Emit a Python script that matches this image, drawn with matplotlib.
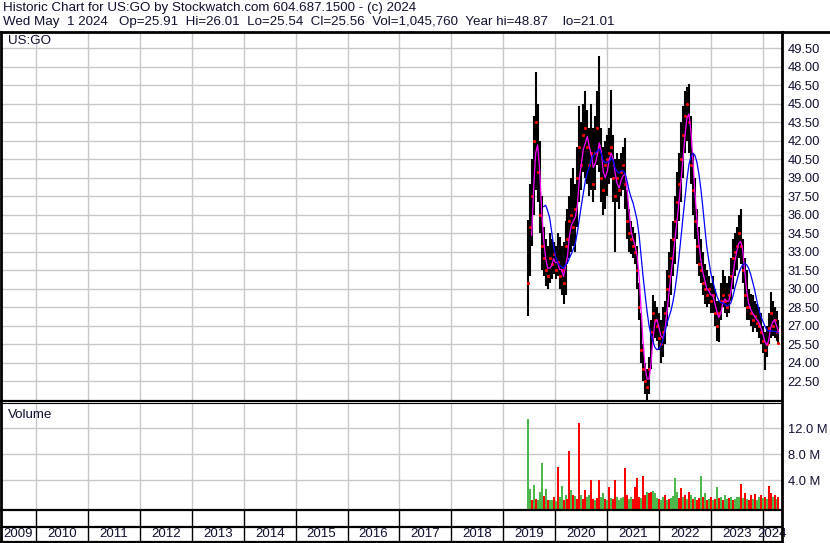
import matplotlib
matplotlib.use("Agg")
import matplotlib.pyplot as plt
import numpy as np
import pandas as pd
from matplotlib.lines import Line2D

W, H, DPI = 830, 543, 100

title_line1 = "Historic Chart for US:GO by Stockwatch.com 604.687.1500 - (c) 2024"
title_line2 = ("Wed May  1 2024   Op=25.91  Hi=26.01  Lo=25.54  Cl=25.56  "
               "Vol=1,045,760  Year hi=48.87    lo=21.01")
symbol_label = "US:GO"
volume_label = "Volume"

# ---- data (bi-weekly bars) ----
start_date = "2019-06-21"
step_days = 14

highs = [35.6, 38.5, 40.5, 44.0, 47.6, 45.0, 42.0, 37.5, 35.0, 34.0,
         33.5, 34.5, 34.0, 33.8, 33.5, 34.5, 34.2, 33.5, 33.8, 35.5,
         36.5, 37.5, 39.0, 39.8, 38.5, 41.5, 44.8, 43.5, 45.0, 46.0,
         44.5, 43.0, 45.0, 43.0, 44.0, 46.0, 48.9, 43.0, 41.5, 42.0,
         42.5, 43.0, 46.1, 42.5, 40.5, 41.0, 40.5, 41.0, 41.5, 42.2,
         38.0, 36.5, 35.5, 35.0, 34.5, 33.5, 30.5, 28.0, 25.5, 24.0,
         23.5, 24.5, 27.5, 29.5, 29.0, 28.5, 28.0, 27.5, 28.5, 29.0,
         31.5, 33.0, 34.0, 35.5, 37.5, 39.5, 41.0, 43.5, 44.8, 46.0,
         46.4, 46.6, 44.0, 41.0, 39.0, 36.5, 35.0, 34.0, 33.0, 32.0,
         31.5, 31.0, 30.5, 31.0, 30.0, 29.0, 29.0, 30.5, 31.5, 31.0,
         30.5, 31.0, 32.5, 34.0, 34.5, 35.0, 36.0, 36.5, 34.0, 32.5,
         31.5, 30.0, 29.6, 29.5, 29.0, 28.8, 28.5, 28.0, 27.0, 26.5,
         27.0, 28.0, 29.7, 29.0, 28.5, 28.2, 27.5]
lows = [27.8, 31.0, 33.5, 36.0, 38.0, 37.0, 34.5, 31.5, 31.0, 30.2,
        30.0, 30.5, 30.8, 31.2, 30.8, 31.0, 30.0, 29.5, 28.8, 29.5,
        32.0, 32.5, 33.0, 33.5, 33.0, 35.0, 37.0, 38.0, 39.5, 39.0,
        38.5, 37.5, 38.0, 37.0, 38.0, 40.0, 39.5, 37.0, 36.0, 36.5,
        37.5, 38.5, 39.0, 37.0, 33.0, 37.0, 36.5, 37.5, 38.0, 36.5,
        34.0, 33.0, 32.8, 32.5, 32.0, 30.0, 27.5, 24.0, 22.5, 21.5,
        21.0, 21.5, 23.5, 25.5, 26.0, 25.8, 25.0, 24.0, 24.5, 25.5,
        27.0, 28.5, 29.5, 31.0, 32.0, 34.0, 35.5, 37.0, 39.0, 41.0,
        42.0, 41.0, 38.5, 36.0, 34.0, 32.0, 31.0, 30.5, 29.5, 28.8,
        28.5, 28.8, 28.0, 28.0, 27.0, 25.8, 25.7, 27.5, 28.5, 28.0,
        27.7, 28.0, 29.0, 30.0, 31.0, 31.5, 32.5, 32.0, 30.5, 28.5,
        27.5, 27.5, 27.0, 26.5, 26.8, 26.5, 26.0, 25.5, 24.8, 23.4,
        24.5, 25.5, 26.0, 26.2, 26.0, 25.8, 25.5]
closes = [30.5, 35.0, 37.5, 42.0, 43.5, 39.5, 36.0, 33.5, 32.5, 31.5,
          31.0, 32.5, 32.0, 32.8, 31.5, 32.2, 31.0, 31.5, 30.5, 33.5,
          34.0, 35.5, 36.0, 35.0, 36.5, 39.0, 41.5, 40.0, 42.5, 43.0,
          41.5, 40.0, 41.0, 38.5, 41.0, 43.0, 41.5, 39.0, 38.0, 40.0,
          40.5, 41.0, 41.5, 39.0, 37.5, 39.0, 38.0, 39.5, 40.0, 38.5,
          35.5, 34.5, 34.0, 33.5, 33.0, 31.5, 28.5, 25.0, 23.5, 22.5,
          22.0, 23.5, 26.5, 28.0, 27.5, 27.0, 26.0, 25.5, 26.5, 28.0,
          30.0, 31.0, 32.5, 34.0, 35.5, 37.0, 38.5, 40.5, 42.5, 44.0,
          45.0, 43.5, 40.0, 38.0, 35.5, 33.5, 32.0, 31.5, 30.5, 30.0,
          29.5, 30.0, 29.0, 29.5, 28.0, 27.0, 28.0, 29.0, 29.5, 29.0,
          28.5, 29.5, 31.0, 32.5, 33.0, 33.5, 34.5, 33.5, 31.5, 29.5,
          28.5, 28.5, 28.0, 27.5, 27.8, 27.2, 27.0, 26.5, 25.8, 25.0,
          25.5, 26.8, 28.0, 27.0, 27.5, 26.5, 25.6]
volumes_m = [13.5, 2.7, 1.0, 3.3, 1.2, 1.0, 2.2, 6.7, 1.6, 2.7,
             1.0, 0.9, 1.0, 1.4, 0.8, 6.0, 1.5, 3.1, 1.0, 1.8,
             1.2, 8.5, 2.5, 1.8, 1.6, 1.2, 12.8, 1.7, 1.2, 2.5,
             1.5, 1.8, 4.0, 1.2, 1.0, 1.3, 4.0, 1.5, 2.0, 1.2,
             1.0, 3.0, 1.3, 1.2, 4.0, 1.5, 1.0, 1.3, 1.4, 5.9,
             1.7, 1.1, 1.5, 1.2, 3.0, 4.4, 1.5, 1.3, 4.7, 1.8,
             2.2, 2.0, 2.2, 2.3, 2.1, 1.3, 1.2, 1.0, 1.4, 1.7,
             1.0, 1.2, 1.3, 1.6, 4.4, 2.2, 1.3, 2.8, 1.5, 1.8,
             1.2, 2.2, 1.7, 1.2, 1.5, 1.0, 1.3, 4.7, 1.5, 2.1,
             1.0, 1.2, 1.4, 1.0, 1.2, 3.0, 1.3, 1.5, 1.0, 1.7,
             1.2, 1.3, 1.5, 1.0, 1.2, 1.4, 1.5, 3.4, 1.3, 2.1,
             1.2, 1.0, 1.7, 1.2, 1.9, 1.0, 1.4, 1.8, 1.3, 1.5,
             1.2, 3.2, 2.1, 1.5, 1.7, 1.2, 1.5]
vol_up = ("ggrgrgggrg" "rggrgrggrg" "rrgrgrrgrr" "ggrrgrrggr"
          "grgrrggggr" "rggrrrrgrr" "grrgggrggr" "grggggrrgr"
          "grgrgrrgrg" "rgrgrgrgrg" "grgrgggrgr" "grrgrggrgr"
          "grrgrgr")[:len(volumes_m)]

short_ma_window = 3
long_ma_window = 9

price_ticks = [22.5, 24.0, 25.5, 27.0, 28.5, 30.0, 31.5, 33.0, 34.5, 36.0,
               37.5, 39.0, 40.5, 42.0, 43.5, 45.0, 46.5, 48.0, 49.5]
vol_ticks = [4.0, 8.0, 12.0]
years = list(range(2009, 2025))

# ---- geometry (pixels) ----
px_per_year = 52.0
x_2019 = 503.0
right_px = 782.0
xlim = (2019 - x_2019 / px_per_year, 2019 + (right_px - x_2019) / px_per_year)
price_top, price_bot = 33, 400
vol_top, vol_bot = 404, 509.3
band_top, band_mid, band_bot = 510, 527, 541.5
price_ylim = (20.98, 50.74)
vol_ylim = (-0.46, 15.74)

GRID = "#c8c8c8"
TXT = "#101030"
FONT = "Liberation Sans"
plt.rcParams["font.family"] = [FONT, "DejaVu Sans"]

dates = pd.date_range(start_date, periods=len(closes), freq=f"{step_days}D")
xs = np.array([d.year + (d.dayofyear - 1) / (366 if d.is_leap_year else 365) for d in dates])
c = pd.Series(closes)
ma_s = c.rolling(short_ma_window).mean()
ma_l = c.rolling(long_ma_window).mean()

fig = plt.figure(figsize=(W / DPI, H / DPI), dpi=DPI)
fig.patch.set_facecolor("white")


def axes_px(x0, y0, x1, y1):
    return fig.add_axes([x0 / W, 1 - y1 / H, (x1 - x0) / W, (y1 - y0) / H])


def hline(y, x0, x1, lw):
    fig.add_artist(Line2D([x0 / W, x1 / W], [1 - y / H, 1 - y / H],
                          transform=fig.transFigure, color="black", lw=lw))


def vline(x, y0, y1, lw):
    fig.add_artist(Line2D([x / W, x / W], [1 - y0 / H, 1 - y1 / H],
                          transform=fig.transFigure, color="black", lw=lw))


year_grid = [y for y in years if xlim[0] < y < xlim[1]]

# price panel
ax = axes_px(1, price_top, right_px, price_bot)
ax.set_xlim(*xlim)
ax.set_ylim(*price_ylim)
ax.set_xticks(year_grid)
ax.set_yticks(price_ticks)
ax.grid(True, color=GRID, lw=1.0)
ax.set_axisbelow(True)
ax.tick_params(axis="x", length=0, labelbottom=False)
ax.yaxis.tick_right()
ax.tick_params(axis="y", length=0, pad=4, labelsize=9.3, labelcolor=TXT)
ax.set_yticklabels([f"{t:.2f}" for t in price_ticks])
for s in ax.spines.values():
    s.set_visible(False)
ax.vlines(xs, lows, highs, color="black", lw=1.5)
ax.plot(xs, closes, ls="none", marker="s", ms=1.1, mec="red", mfc="red")
ax.plot(xs, ma_s, color="#ff00ff", lw=0.9)
ax.plot(xs, ma_l, color="#0000ff", lw=0.9)
ax.text(0.009, 0.995, symbol_label, transform=ax.transAxes, ha="left", va="top",
        fontsize=9.6, color=TXT)

# volume panel
av = axes_px(1, vol_top, right_px, vol_bot)
av.set_xlim(*xlim)
av.set_ylim(*vol_ylim)
av.set_xticks(year_grid)
av.set_yticks(vol_ticks)
av.grid(True, color=GRID, lw=1.0)
av.set_axisbelow(True)
av.tick_params(axis="x", length=0, labelbottom=False)
av.yaxis.tick_right()
av.tick_params(axis="y", length=0, pad=4, labelsize=9.3, labelcolor=TXT)
av.set_yticklabels([f"{t:.1f} M" for t in vol_ticks])
for s in av.spines.values():
    s.set_visible(False)
cols = ["#4cb84c" if u == "g" else "#ff0000" for u in vol_up]
vols = np.array(volumes_m)
av.bar(xs, vols - vol_ylim[0], bottom=vol_ylim[0], width=step_days / 365.25,
       color=cols, align="center", lw=0)
av.text(0.009, 0.95, volume_label, transform=av.transAxes, ha="left", va="top",
        fontsize=9.6, color=TXT)

# year band
ab = axes_px(1, band_top, right_px, band_bot)
ab.set_xlim(*xlim)
ab.set_ylim(0, 1)
ab.axis("off")
for y in year_grid:
    ab.axvline(y, color="black", lw=1.0)
bounds = [xlim[0]] + year_grid + [xlim[1]]
frac_mid = (band_bot - band_mid) / (band_bot - band_top)
for yr, a, b in zip(years, bounds[:-1], bounds[1:]):
    ab.text((a + b) / 2, frac_mid / 2, str(yr), ha="center", va="center",
            fontsize=9.5, color=TXT, clip_on=False)

# frame lines
hline(32, 0, W, 2.0)
hline(400.8, 0, right_px, 1.6)
hline(403.2, 0, right_px, 0.8)
hline(509.8, 0, right_px, 1.6)
hline(band_mid, 0, right_px, 1.6)
hline(541.8, 0, right_px, 1.6)
vline(1.0, 32, 542, 2.0)
vline(right_px, 32, 543, 2.0)

fig.text(3 / W, 1 - 8 / H, title_line1, ha="left", va="center", fontsize=9.65, color=TXT)
fig.text(3 / W, 1 - 22 / H, title_line2, ha="left", va="center", fontsize=9.65, color=TXT)

fig.savefig("out.png", dpi=DPI, facecolor="white")
